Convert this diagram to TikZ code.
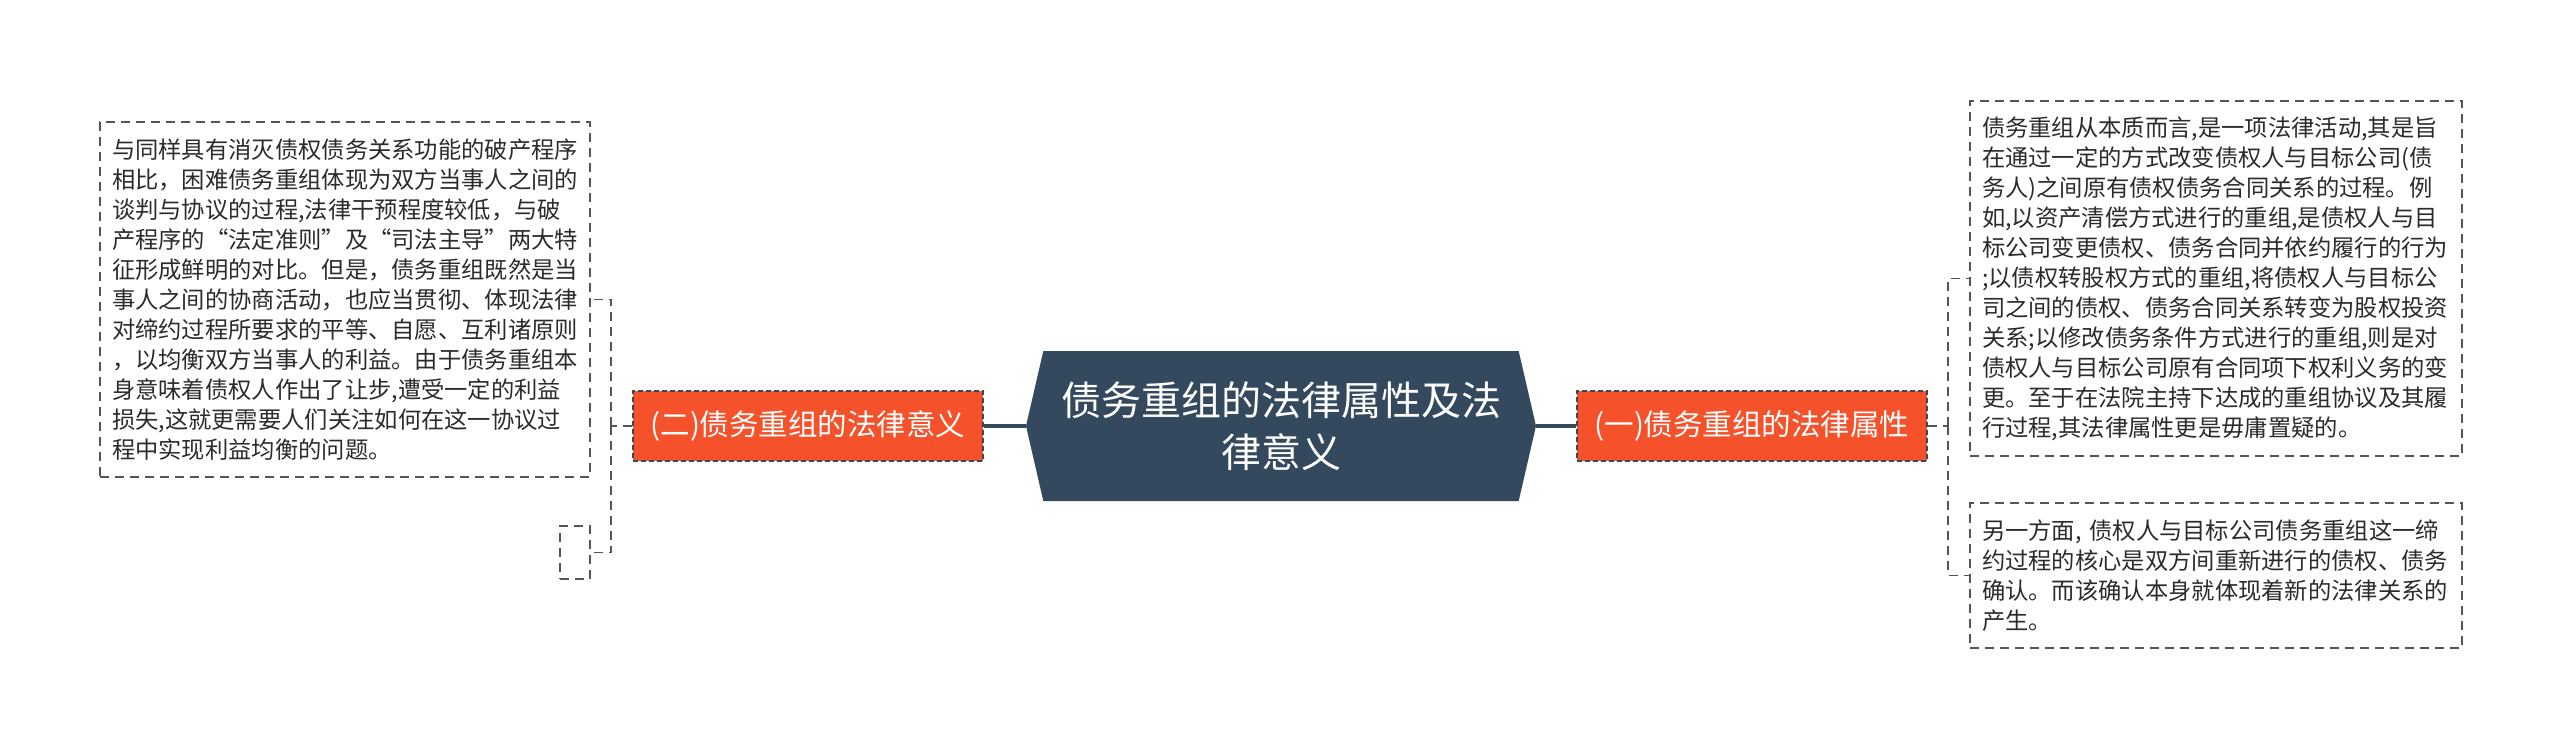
\documentclass[tikz,border=0pt]{standalone}
\usepackage{fontspec}
\setmainfont{Noto Sans CJK SC}
\usetikzlibrary{shapes.symbols}
\definecolor{rootblue}{HTML}{34495E}
\definecolor{branchred}{HTML}{F5512B}
\definecolor{linegray}{HTML}{555555}
\definecolor{textdark}{HTML}{2B2B2B}

\begin{document}
\begin{tikzpicture}[x=1pt,y=-1pt,
    root/.style={shape=signal,signal to=west and east,signal pointer angle=154,
        fill=rootblue,text=white,inner sep=0pt,minimum width=510pt,minimum height=150pt,
        align=center,font=\fontsize{40}{52}\selectfont},
    branch/.style={fill=branchred,draw=rootblue,dashed,dash pattern=on 5pt off 3pt,line width=1.5pt,
        text=white,inner sep=0pt,minimum width=350pt,minimum height=70pt,
        font=\fontsize{29.5}{34}\selectfont},
    leaf/.style={draw=linegray,dash pattern=on 9pt off 6pt,line width=1.5pt,fill=white,
        text=textdark,align=left,inner xsep=12pt,inner ysep=4pt,
        font=\fontsize{23.3}{30}\selectfont},
    link/.style={draw=linegray,dash pattern=on 9pt off 6pt,line width=1.5pt},
    trunk/.style={draw=rootblue,line width=4pt}]
\useasboundingbox (0,0) rectangle (2560,747);

\node[root] (root) at (1281,426) {债务重组的法律属性及法\\律意义};

\node[branch] (lbranch) at (808,426) {(二)债务重组的法律意义};
\node[branch] (rbranch) at (1752,426) {(一)债务重组的法律属性};

\node[leaf,text width=466pt,minimum height=355pt] (ltext) at (345,299.5) {与同样具有消灭债权债务关系功能的破产程序\\相比，困难债务重组体现为双方当事人之间的\\谈判与协议的过程,法律干预程度较低，与破\\产程序的“法定准则”及“司法主导”两大特\\征形成鲜明的对比。但是，债务重组既然是当\\事人之间的协商活动，也应当贯彻、体现法律\\对缔约过程所要求的平等、自愿、互利诸原则\\，以均衡双方当事人的利益。由于债务重组本\\身意味着债权人作出了让步,遭受一定的利益\\损失,这就更需要人们关注如何在这一协议过\\程中实现利益均衡的问题。};
\node[leaf,inner sep=0pt,minimum width=30pt,minimum height=53pt] (lempty) at (575,552.5) {};

\node[leaf,text width=468pt,minimum height=355pt] (rtext1) at (2216,278.5) {债务重组从本质而言,是一项法律活动,其是旨\\在通过一定的方式改变债权人与目标公司(债\\务人)之间原有债权债务合同关系的过程。例\\如,以资产清偿方式进行的重组,是债权人与目\\标公司变更债权、债务合同并依约履行的行为\\;以债权转股权方式的重组,将债权人与目标公\\司之间的债权、债务合同关系转变为股权投资\\关系;以修改债务条件方式进行的重组,则是对\\债权人与目标公司原有合同项下权利义务的变\\更。至于在法院主持下达成的重组协议及其履\\行过程,其法律属性更是毋庸置疑的。};
\node[leaf,text width=468pt,minimum height=145pt] (rtext2) at (2216,575.5) {另一方面, 债权人与目标公司债务重组这一缔\\约过程的核心是双方间重新进行的债权、债务\\确认。而该确认本身就体现着新的法律关系的\\产生。};

\coordinate (ljoin) at (611,426);
\coordinate (rjoin) at (1948,426);

\draw[trunk] (root.west) -- (lbranch.east);
\draw[trunk] (root.east) -- (rbranch.west);

\draw[link] (lbranch.west) -- (ljoin);
\draw[link] (ljoin) |- (ltext.east);
\draw[link] (ljoin) |- (lempty.east);
\draw[link] (rbranch.east) -- (rjoin);
\draw[link] (rjoin) |- (rtext1.west);
\draw[link] (rjoin) |- (rtext2.west);
\end{tikzpicture}
\end{document}
